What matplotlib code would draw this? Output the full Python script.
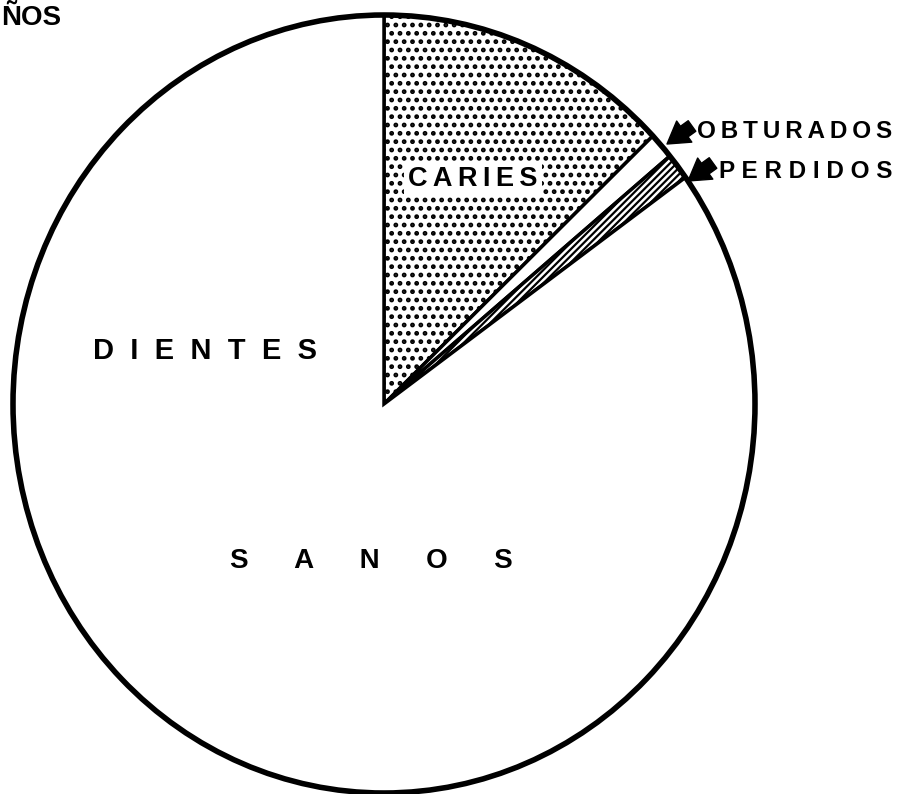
import matplotlib.pyplot as plt

# estado de la dentición permanente (%)
categorias = ['CARIES', 'OBTURADOS', 'PERDIDOS', 'SANOS']
valores = [12.9, 1.1, 1.1, 84.9]
tramas = ['..', '', '/////', '']

W, H = 903, 794
cx, cy = 384, 404   # centro del círculo en pixeles
rx, ry = 371, 389   # radios en pixeles

plt.rcParams['hatch.linewidth'] = 2.2

fig = plt.figure(figsize=(W / 100, H / 100), dpi=100)
ax = fig.add_axes([0, 0, 1, 1])

wedges, _ = ax.pie(valores, startangle=90, counterclock=False,
                   colors=['white'] * 4, hatch=tramas,
                   wedgeprops=dict(edgecolor='black', linewidth=2.5))
# rayado mas fino en la porcion de perdidos
if hasattr(wedges[2], 'set_hatch_linewidth'):
    wedges[2].set_hatch_linewidth(1.6)
ax.add_patch(plt.Circle((0, 0), 1, fill=False, edgecolor='black', linewidth=4))

# escala en x e y distinta para dejar el circulo algo ovalado
ax.set_aspect('auto')
ax.set_xlim((0 - cx) / rx, (W - cx) / rx)
ax.set_ylim((cy - H) / ry, (cy - 0) / ry)
ax.axis('off')


def px(x, y):
    return (x - cx) / rx, (cy - y) / ry


fuente = dict(fontweight='bold', family=['Liberation Sans', 'DejaVu Sans'], color='black')
ts = '\u2009'

ax.text(*px(473, 179), ts.join('CARIES'), fontsize=19.5, ha='center', va='center',
        bbox=dict(facecolor='white', edgecolor='none', pad=3), **fuente)
ax.text(*px(205, 351), '  '.join('DIENTES'), fontsize=21, ha='center', va='center', **fuente)
ax.text(*px(371, 561), '      '.join('SANOS'), fontsize=20, ha='center', va='center', **fuente)
ax.text(*px(697, 131), ts.join('OBTURADOS'), fontsize=17.5, ha='left', va='center', **fuente)
ax.text(*px(719, 171), ' '.join('PERDIDOS'), fontsize=17.5, ha='left', va='center', **fuente)
ax.text(*px(1, 18), 'ÑOS', fontsize=20, ha='left', va='center', **fuente)

# flechas hacia las porciones pequeñas
flecha = dict(arrowstyle='simple,head_width=1.1,head_length=0.9,tail_width=0.55',
              color='black', mutation_scale=17, shrinkA=0, shrinkB=0)
ax.annotate('', xy=px(667, 144), xytext=px(692, 126), arrowprops=flecha)
ax.annotate('', xy=px(688, 181), xytext=px(713, 163), arrowprops=flecha)

fig.savefig('out.png', dpi=100)
